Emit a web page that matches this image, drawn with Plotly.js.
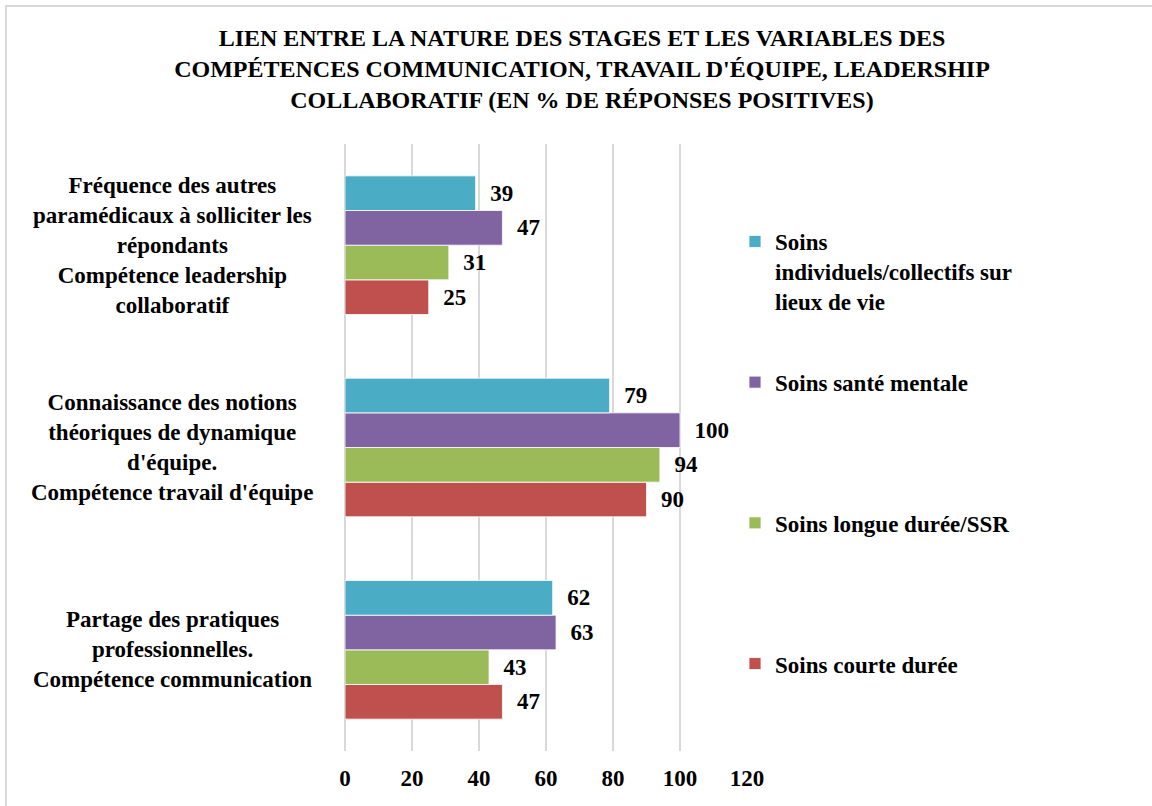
<!DOCTYPE html>
<html>
<head>
<meta charset="utf-8">
<script src="https://cdn.plot.ly/plotly-3.0.1.min.js"></script>
<style>html,body{margin:0;padding:0;background:#fff;}#chart{width:1152px;height:806px;}</style>
</head>
<body>
<div id="chart"></div>
<script>
// Categories (bottom to top, as Plotly draws a category y axis)
const categories = [
  "Partage des pratiques<br>professionnelles.<br>Compétence communication",
  "Connaissance des notions<br>théoriques de dynamique<br>d'équipe.<br>Compétence travail d'équipe",
  "Fréquence des autres<br>paramédicaux à solliciter les<br>répondants<br>Compétence leadership<br>collaboratif"
];
const seriesNames = [
  "Soins courte durée",
  "Soins longue durée/SSR",
  "Soins santé mentale",
  "Soins<br>individuels/collectifs sur<br>lieux de vie"
];
const courteDuree   = [47, 90, 25];
const longueDuree   = [43, 94, 31];
const santeMentale  = [63, 100, 47];
const lieuxDeVie    = [62, 79, 39];
const xTicks = [0, 20, 40, 60, 80, 100, 120];

const seriesValues = [courteDuree, longueDuree, santeMentale, lieuxDeVie];
const colors = ["#C0504D", "#9BBB59", "#8064A2", "#4BACC6"];
const FONT = "'Times New Roman', 'Liberation Serif', Tinos, serif";
const FS = 23;
const pad = "\u00a0";

const traces = seriesValues.map((vals, i) => {
  let name = "<b>" + seriesNames[i].split("<br>").join("</b><br><b>") + "</b>";
  const lines = seriesNames[i].split("<br>").length;
  for (let k = lines; k < 3; k++) name += "<br>" + pad;
  return {
    type: "bar",
    orientation: "h",
    y: categories,
    x: vals,
    name: name,
    legendgroup: "g" + i,
    legendrank: 4 - i,
    marker: {color: colors[i], line: {color: "rgba(255,255,255,0.8)", width: 1}},
    texttemplate: "<b>" + pad + pad + "%{x}</b>",
    textposition: "outside",
    cliponaxis: false,
    textfont: {family: FONT, size: FS, color: "#000"},
    hoverinfo: "x+name"
  };
});

const annotations = categories.map(c => ({
  xref: "paper", yref: "y",
  x: (172 - 345) / 402, y: c,
  text: "<b>" + c.split("<br>").join("</b><br><b>") + "</b>",
  showarrow: false,
  align: "center",
  xanchor: "center", yanchor: "middle",
  font: {family: FONT, size: FS, color: "#000"}
}));

const layout = {
  width: 1152, height: 806,
  paper_bgcolor: "#fff", plot_bgcolor: "#fff",
  font: {family: FONT, color: "#000"},
  margin: {l: 345, r: 405, t: 144, b: 55, autoexpand: false},
  title: {
    text: "<b>LIEN ENTRE LA NATURE DES STAGES ET LES VARIABLES DES<br>COMPÉTENCES COMMUNICATION, TRAVAIL D'ÉQUIPE, LEADERSHIP<br>COLLABORATIF (EN % DE RÉPONSES POSITIVES)</b>",
    font: {family: FONT, size: 24, color: "#000"},
    x: 582 / 1152, xanchor: "center", xref: "container",
    y: 1 - 46 / 806, yanchor: "top", yref: "container"
  },
  barmode: "group",
  bargap: 0.315,
  bargroupgap: 0,
  xaxis: {
    range: [0, 120],
    tickvals: xTicks,
    ticktext: xTicks.map(v => "<b>" + v + "</b>"),
    tickfont: {family: FONT, size: FS, color: "#000"},
    showgrid: true, gridcolor: "#d9d9d9", gridwidth: 2,
    zeroline: true, zerolinecolor: "#d9d9d9", zerolinewidth: 2,
    showline: false, ticks: "",
    ticklabelstandoff: 11,
    fixedrange: true
  },
  yaxis: {
    type: "category",
    showticklabels: false,
    showgrid: false, zeroline: false, showline: false, ticks: "",
    fixedrange: true
  },
  showlegend: true,
  legend: {
    xref: "container", yref: "container",
    x: 735 / 1152, xanchor: "left",
    y: 1 - 220 / 806, yanchor: "top",
    traceorder: "grouped",
    tracegroupgap: 48,
    valign: "top",
    maxheight: 780,
    font: {family: FONT, size: FS, color: "#000"},
    bgcolor: "rgba(0,0,0,0)",
    borderwidth: 0
  },
  annotations: annotations,
  shapes: [{
    type: "rect", xref: "paper", yref: "paper",
    x0: (6 - 345) / 402, x1: (1170 - 345) / 402,
    y0: (751 - 6) / 607, y1: (751 - 830) / 607,
    line: {color: "#d9d9d9", width: 2},
    fillcolor: "rgba(0,0,0,0)",
    layer: "below"
  }]
};

Plotly.newPlot("chart", traces, layout, {displayModeBar: false, staticPlot: true});
</script>
</body>
</html>
